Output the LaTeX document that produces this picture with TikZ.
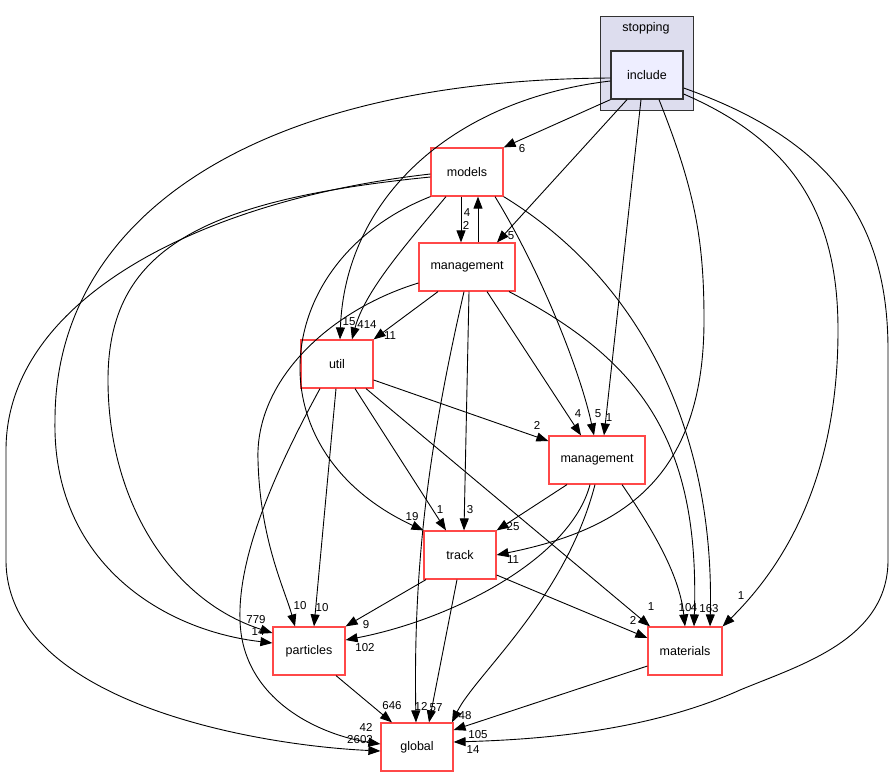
\documentclass[tikz,border=0pt]{standalone}
\usepackage{fontspec}
\setmainfont{Liberation Sans}
\usepackage{xcolor}
\usepackage{tikz}
\usetikzlibrary{arrows.meta, positioning}
\definecolor{dirred}{RGB}{255,72,72}
\definecolor{clusterfill}{RGB}{221,221,238}
\definecolor{incfill}{RGB}{238,238,255}
\definecolor{clusterline}{RGB}{50,50,50}
\tikzset{
  font=\fontsize{12.5}{14}\selectfont,     % node text
  dirbox/.style     = {rectangle, draw=dirred, line width=1.2pt, fill=white,
                       minimum width=72pt, minimum height=48pt, inner sep=0pt},
  widebox/.style    = {dirbox, minimum width=96pt},
  incbox/.style     = {rectangle, draw=clusterline, line width=1.3pt, fill=incfill,
                       minimum width=72pt, minimum height=48pt, inner sep=0pt},
  dep/.style        = {-{Triangle[length=12pt,width=9pt]}, line width=0.9pt},
  lbl/.style        = {font=\fontsize{11.5}{12}\selectfont, inner sep=0pt}
}

\begin{document}
\begin{tikzpicture}[x=1pt, y=-1pt]
  \useasboundingbox (0,0) rectangle (893,777);
  % cluster
  \draw[draw=clusterline, line width=1pt, fill=clusterfill] (600,16) rectangle (693,110);
  \node (stoplbl) at (646,28) {stopping};
  % directories
  \node[incbox]  (inc)    at (647,75)  {include};
  \node[dirbox]  (models) at (467,172) {models};
  \node[widebox] (mgA)    at (467,267) {management};
  \node[dirbox]  (util)   at (337,364) {util};
  \node[widebox] (mgB)    at (597,460) {management};
  \node[dirbox]  (track)  at (460,555) {track};
  \node[dirbox]  (part)   at (309,651) {particles};
  \node[dirbox, minimum width=74pt] (mat) at (685,651) {materials};
  \node[dirbox]  (glob)   at (417,747) {global};

  % from include
  \draw[dep] (inc.south west) -- (models.north east);
  \draw[dep] ([xshift=-20]inc.south) -- ([xshift=30]mgA.north);
  \draw[dep] ([xshift=-6]inc.south) -- ([xshift=7]mgB.north);
  \draw[dep] ([xshift=12]inc.south) .. controls (695,190) and (704,240) .. (704,320)
             .. controls (704,480) and (620,530) .. (track.east);
  \draw[dep] ([yshift=-19]inc.east) .. controls (790,140) and (838,210) .. (838,330)
             .. controls (838,470) and (790,560) .. (mat.north east);
  \draw[dep] ([yshift=-13]inc.east) .. controls (830,140) and (888,220) .. (888,350)
             -- (888,560) .. controls (888,640) and (800,665) .. (740,690)
             .. controls (640,735) and (520,740) .. ([yshift=5]glob.east);
  \draw[dep] ([yshift=-6]inc.west) .. controls (450,100) and (345,200) .. ([xshift=3]util.north);
  \draw[dep] ([yshift=-3]inc.west) .. controls (250,80) and (55,220) .. (55,420)
             .. controls (52,560) and (160,630) .. ([yshift=8]part.west);

  % from models
  \draw[dep] ([yshift=-5]models.west) .. controls (200,200) and (108,250) .. (108,380)
             .. controls (108,500) and (170,600) .. ([yshift=18]part.west);
  \draw[dep] ([yshift=-2]models.west) .. controls (200,200) and (6,300) .. (6,450)
             -- (6,560) .. controls (6,700) and (250,745) .. ([yshift=-4]glob.west);
  \draw[dep] (models.south west) .. controls (270,260) and (250,450) .. (track.north west);
  \draw[dep] ([xshift=-21]models.south) .. controls (410,240) and (365,290) .. ([xshift=15]util.north);
  \draw[dep] ([xshift=-6]models.south) -- ([xshift=-6]mgA.north);
  \draw[dep] ([xshift=28]models.south) .. controls (540,270) and (580,370) .. ([xshift=-3]mgB.north);
  \draw[dep] (models.south east) .. controls (640,280) and (715,430) .. ([xshift=25]mat.north);

  % from management (upper)
  \draw[dep] ([xshift=11]mgA.north) -- ([xshift=11]models.south);
  \draw[dep] ([xshift=-29]mgA.south) -- (util.north east);
  \draw[dep] ([yshift=-16]mgA.west) .. controls (330,310) and (255,380) .. (258,460)
             .. controls (260,540) and (285,590) .. ([xshift=-14]part.north);
  \draw[dep] ([xshift=-3]mgA.south) .. controls (430,440) and (413,560) .. ([xshift=-1]glob.north);
  \draw[dep] ([xshift=2]mgA.south) -- ([xshift=4]track.north);
  \draw[dep] ([xshift=20]mgA.south) -- ([xshift=-16]mgB.north);
  \draw[dep] ([xshift=42]mgA.south) .. controls (640,360) and (700,440) .. ([xshift=9]mat.north);

  % from util
  \draw[dep] ([yshift=-16]util.east) -- ([yshift=19]mgB.west);
  \draw[dep] ([xshift=18]util.south) -- ([xshift=-14]track.north);
  \draw[dep] ([xshift=29]util.south) -- ([xshift=-35]mat.north);
  \draw[dep] ([xshift=-1]util.south) -- ([xshift=5]part.north);
  \draw[dep] ([xshift=-17]util.south) .. controls (270,480) and (238,560) .. (240,620)
             .. controls (242,700) and (320,735) .. ([yshift=3]glob.west);

  % from management (lower)
  \draw[dep] ([xshift=-30]mgB.south) -- (track.north east);
  \draw[dep] ([xshift=-7]mgB.south) .. controls (570,560) and (450,620) .. ([yshift=11]part.east);
  \draw[dep] ([xshift=-2]mgB.south) .. controls (565,600) and (475,675) .. ([xshift=35]glob.north);
  \draw[dep] ([xshift=25]mgB.south) .. controls (660,540) and (680,580) .. (mat.north);

  % from track, particles, materials
  \draw[dep] ([xshift=-34]track.south) -- (part.north east);
  \draw[dep] ([xshift=-3]track.south) -- ([xshift=12]glob.north);
  \draw[dep] ([yshift=-20]track.east) -- ([yshift=13]mat.west);
  \draw[dep] ([xshift=27]part.south) -- ([xshift=-25]glob.north);
  \draw[dep] ([yshift=-15]mat.west) -- ([yshift=17]glob.east);

  % edge labels
  \node[lbl] (l1)  at (522,149) {6};
  \node[lbl] (l2)  at (511,236) {5};
  \node[lbl] (l3)  at (609,418) {1};
  \node[lbl] (l4)  at (513,560) {11};
  \node[lbl] (l5)  at (741,596) {1};
  \node[lbl] (l6)  at (473,750) {14};
  \node[lbl] (l7)  at (349,322) {15};
  \node[lbl] (l8)  at (367,325) {414};
  \node[lbl] (l9)  at (256,620) {779};
  \node[lbl] (l10) at (258,632) {14};
  \node[lbl] (l11) at (360,740) {2602};
  \node[lbl] (l12) at (366,727) {42};
  \node[lbl] (l13) at (412,517) {19};
  \node[lbl] (l14) at (466,225) {2};
  \node[lbl] (l15) at (467,213) {4};
  \node[lbl] (l16) at (598,414) {5};
  \node[lbl] (l17) at (709,609) {163};
  \node[lbl] (l18) at (694,608) {4};
  \node[lbl] (l19) at (685,608) {10};
  \node[lbl] (l20) at (300,606) {10};
  \node[lbl] (l21) at (322,608) {10};
  \node[lbl] (l22) at (390,336) {11};
  \node[lbl] (l23) at (421,706) {12};
  \node[lbl] (l24) at (470,510) {3};
  \node[lbl] (l25) at (578,414) {4};
  \node[lbl] (l26) at (537,425) {2};
  \node[lbl] (l27) at (440,510) {1};
  \node[lbl] (l28) at (651,607) {1};
  \node[lbl] (l29) at (513,527) {25};
  \node[lbl] (l30) at (365,648) {102};
  \node[lbl] (l31) at (465,716) {48};
  \node[lbl] (l32) at (366,625) {9};
  \node[lbl] (l33) at (436,708) {57};
  \node[lbl] (l34) at (633,620) {2};
  \node[lbl] (l35) at (392,706) {646};
  \node[lbl] (l36) at (478,735) {105};
\end{tikzpicture}
\end{document}
